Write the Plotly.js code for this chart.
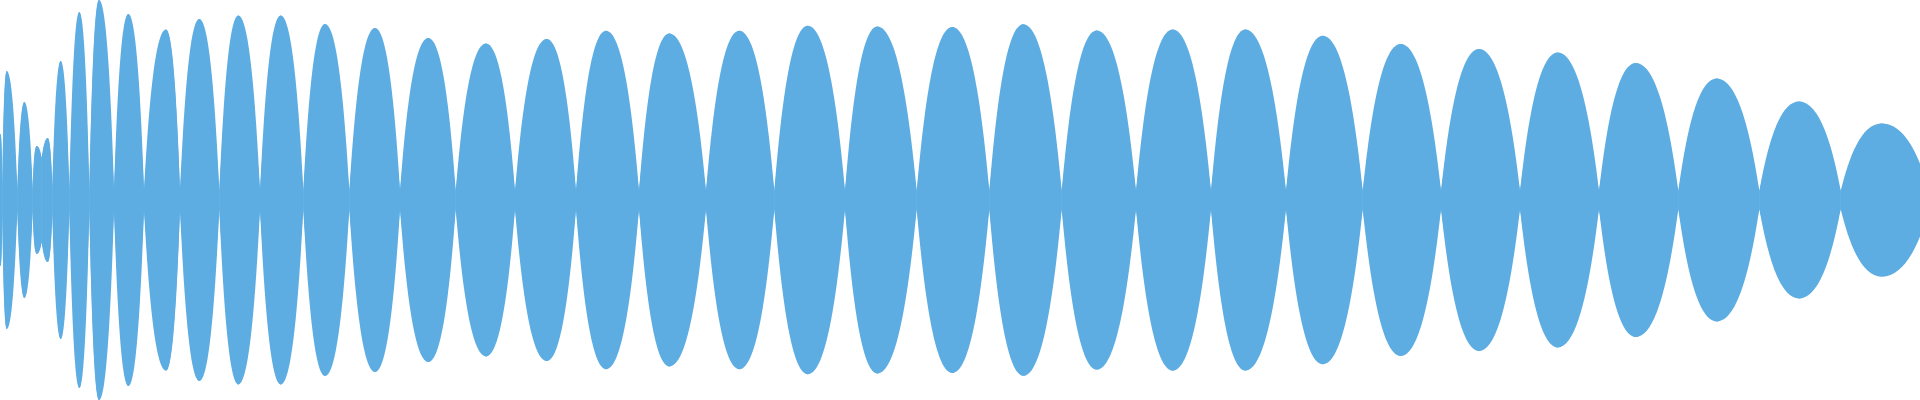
<!DOCTYPE html>
<html>
<head>
<meta charset="utf-8">
<script src="https://cdn.plot.ly/plotly-3.0.1.min.js"></script>
<style>
  html, body { margin: 0; padding: 0; background: #ffffff; }
  #chart { width: 1920px; height: 400px; }
</style>
</head>
<body>
<div id="chart"></div>
<script>
// Envelope of the waveform: nodes (narrow waists) and lobe peaks, normalized amplitude
const nodeX = [-4, 2.3, 17.3, 32.7, 41.7, 52.3, 69.3, 89.3, 114, 144,
               180, 219.3, 260, 303.3, 349.3, 400, 455.7, 515, 576, 639,
               706, 774.3, 845, 916.7, 989.3, 1061.7, 1136, 1211, 1286, 1362.7,
               1441, 1520, 1599, 1678.3, 1759.3, 1840.7, 1930];
const nodeAmp = [0.1, 0.05, 0.05, 0.05, 0.21, 0.06, 0.05, 0.05, 0.05, 0.05,
                 0.045, 0.045, 0.045, 0.045, 0.045, 0.045, 0.045, 0.045, 0.045, 0.045,
                 0.045, 0.045, 0.045, 0.045, 0.045, 0.045, 0.045, 0.045, 0.045, 0.045,
                 0.045, 0.045, 0.045, 0.045, 0.045, 0.045, 0.03];
const peakX = [0.5, 6.7, 24.3, 36.7, 47.7, 60.7, 79.3, 99, 128.3, 166,
               199.3, 238.3, 280.7, 325, 375, 428.3, 486, 546.7, 606, 669.3,
               739.3, 807.7, 877.3, 952.3, 1023.3, 1096.7, 1172.7, 1245.3, 1322.7, 1400.7,
               1479, 1557.7, 1635.7, 1716.7, 1799, 1881.7];
const peakAmp = [0.33, 0.645, 0.49, 0.27, 0.31, 0.695, 0.94, 1.0, 0.93, 0.853,
                 0.905, 0.922, 0.922, 0.88, 0.86, 0.81, 0.782, 0.805, 0.846, 0.832,
                 0.846, 0.871, 0.867, 0.865, 0.879, 0.848, 0.853, 0.853, 0.821, 0.78,
                 0.755, 0.737, 0.685, 0.607, 0.492, 0.383];

const fillColor = '#5DADE2';

// Data traces: each lobe's upper and lower envelope, filled to the centre line
const traces = [];
for (let i = 0; i < peakX.length; i++) {
  const xs = [nodeX[i], peakX[i], nodeX[i + 1]];
  const top = [nodeAmp[i], peakAmp[i], nodeAmp[i + 1]];
  const bottom = top.map(v => -v);
  [top, bottom].forEach(ys => {
    traces.push({
      type: 'scatter',
      mode: 'lines',
      x: xs,
      y: ys,
      line: { shape: 'spline', smoothing: 1.3, width: 0, color: fillColor },
      fill: 'tozeroy',
      fillcolor: fillColor,
      hoverinfo: 'skip',
      showlegend: false
    });
  });
}

// Lobe outline style (curve handles as fractions of each half-lobe), drawn in data coordinates
const handleOut = 0.2, handleRise = 0.5, handleTop = 0.5;
const shapes = [];
for (let i = 0; i < peakX.length; i++) {
  const n0 = nodeX[i], n1 = nodeX[i + 1], pk = peakX[i];
  const a0 = nodeAmp[i], a1 = nodeAmp[i + 1], A = peakAmp[i];
  const wL = pk - n0, wR = n1 - pk;
  const r0 = a0 + handleRise * (A - a0), r1 = a1 + handleRise * (A - a1);
  const p = (x, y) => x.toFixed(3) + ',' + y.toFixed(4);
  const d =
    'M' + p(n0, a0) +
    ' C' + p(n0 + handleOut * wL, r0) + ' ' + p(pk - handleTop * wL, A) + ' ' + p(pk, A) +
    ' C' + p(pk + handleTop * wR, A) + ' ' + p(n1 - handleOut * wR, r1) + ' ' + p(n1, a1) +
    ' L' + p(n1, -a1) +
    ' C' + p(n1 - handleOut * wR, -r1) + ' ' + p(pk + handleTop * wR, -A) + ' ' + p(pk, -A) +
    ' C' + p(pk - handleTop * wL, -A) + ' ' + p(n0 + handleOut * wL, -r0) + ' ' + p(n0, -a0) +
    ' Z';
  shapes.push({
    type: 'path', xref: 'x', yref: 'y', path: d,
    fillcolor: fillColor, opacity: 1, line: { width: 0, color: fillColor }, layer: 'above'
  });
}

const layout = {
  width: 1920,
  height: 400,
  margin: { l: 0, r: 0, t: 0, b: 0, pad: 0 },
  paper_bgcolor: '#ffffff',
  plot_bgcolor: 'rgba(0,0,0,0)',
  showlegend: false,
  shapes: shapes,
  xaxis: { range: [0, 1920], visible: false, fixedrange: true },
  yaxis: { range: [-1, 1], visible: false, fixedrange: true }
};

Plotly.newPlot('chart', traces, layout, { staticPlot: true, displayModeBar: false });
</script>
</body>
</html>
